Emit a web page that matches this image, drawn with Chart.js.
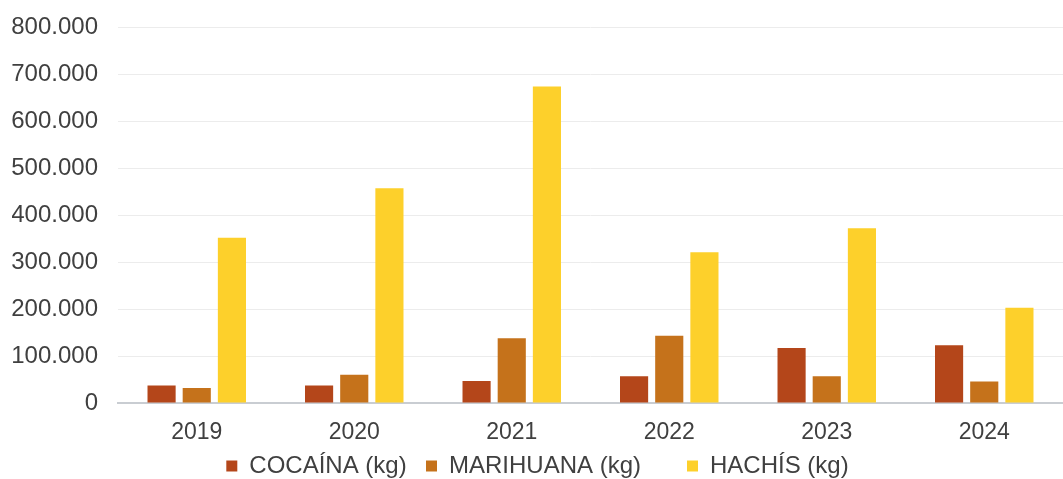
<!DOCTYPE html>
<html>
<head>
    <meta charset="utf-8">
    <title>Incautaciones por año</title>
    <script src="https://cdn.jsdelivr.net/npm/chart.js"></script>
    <style>
        html, body { margin: 0; padding: 0; background: #fff; }
        #wrap { width: 1063px; height: 479px; }
    </style>
</head>
<body>
    <div id="wrap"><canvas id="grafica"></canvas></div>
    <script>
        // Datos (kg)
        const anios = ['2019', '2020', '2021', '2022', '2023', '2024'];
        const cocaina = [37000, 37000, 47000, 57000, 117000, 123000];
        const marihuana = [32000, 60000, 138000, 143000, 57000, 46000];
        const hachis = [352000, 457000, 674000, 321000, 372000, 203000];

        const familia = '"Liberation Sans", Arial, sans-serif';

        new Chart(document.getElementById('grafica'), {
            type: 'bar',
            data: {
                labels: anios,
                datasets: [
                    // los espacios finales separan las entradas de la leyenda
                    { label: 'COCAÍNA (kg)  ', data: cocaina, backgroundColor: '#B4461A' },
                    { label: 'MARIHUANA (kg)      ', data: marihuana, backgroundColor: '#C5721B' },
                    { label: 'HACHÍS (kg)', data: hachis, backgroundColor: '#FDD02B' }
                ]
            },
            options: {
                responsive: true,
                maintainAspectRatio: false,
                animation: false,
                layout: { padding: { left: 12, right: 0, top: 2, bottom: -9 } },
                datasets: {
                    bar: { categoryPercentage: 0.67, barPercentage: 0.8 }
                },
                plugins: {
                    tooltip: { enabled: false },
                    legend: {
                        position: 'bottom',
                        labels: {
                            boxWidth: 11,
                            boxHeight: 11,
                            padding: 6,
                            color: '#404040',
                            font: { family: familia, size: 24 }
                        }
                    }
                },
                scales: {
                    x: {
                        grid: { display: false, drawTicks: false },
                        border: { color: '#C9CDD2', width: 2 },
                        ticks: { color: '#404040', font: { family: familia, size: 23 }, padding: 16 },
                        afterFit: s => { s.height = 45; }
                    },
                    y: {
                        min: 0,
                        max: 800000,
                        border: { display: false },
                        grid: { color: '#ECECEC', drawTicks: false },
                        ticks: {
                            stepSize: 100000,
                            color: '#404040',
                            font: { family: familia, size: 24, lineHeight: 0.6 },
                            padding: 20,
                            callback: v => v.toLocaleString('es-ES')
                        },
                        afterFit: s => { s.width = 106; }
                    }
                }
            }
        });
    </script>
</body>
</html>
